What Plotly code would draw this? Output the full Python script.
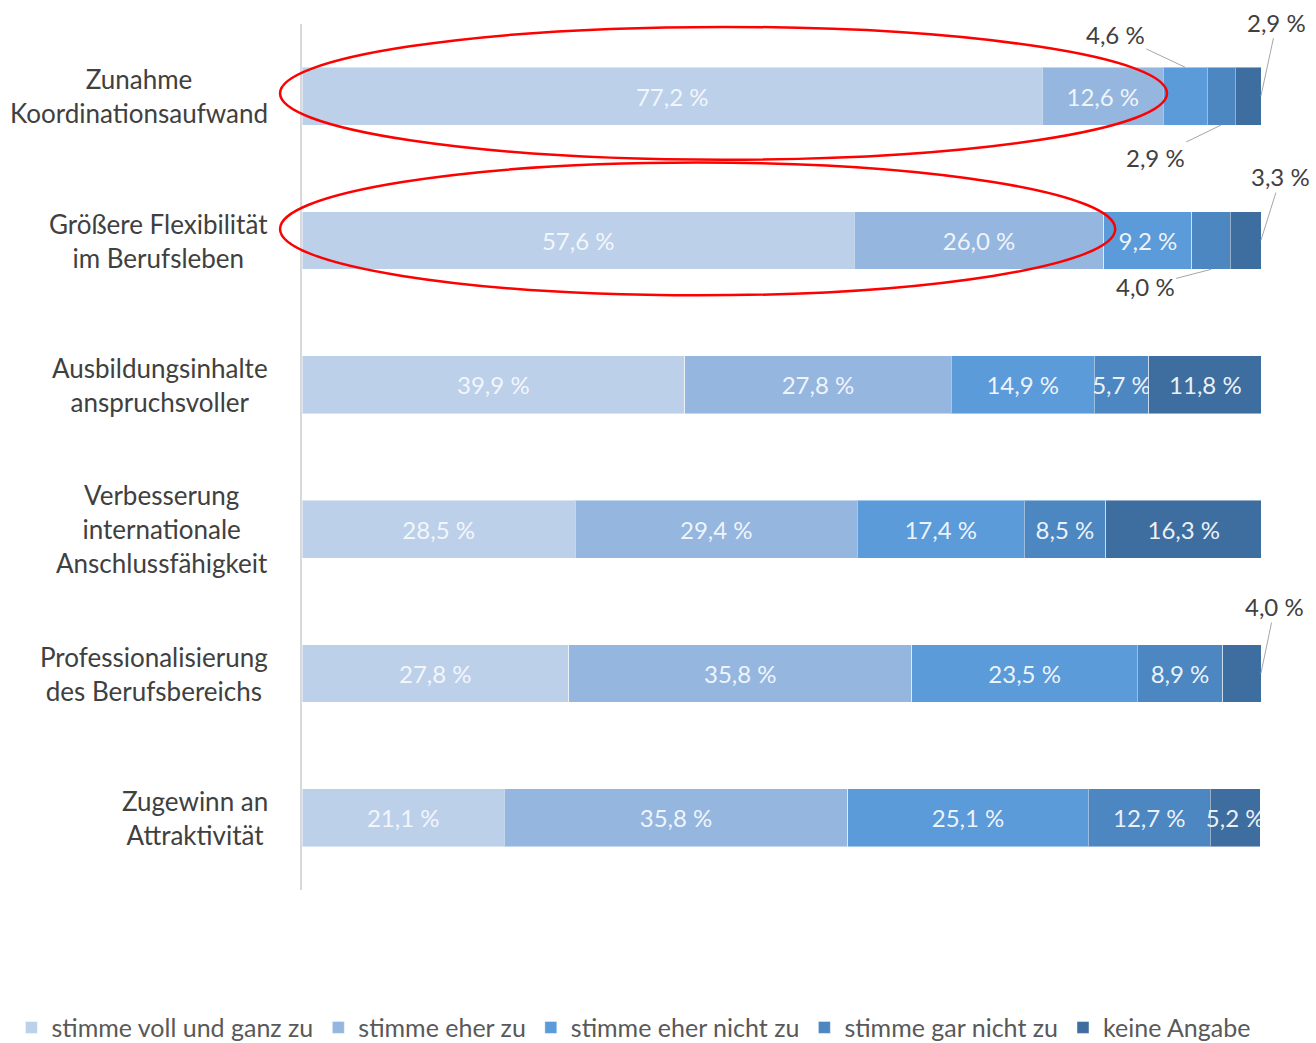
import plotly.graph_objects as go

categories = [
    "Zunahme<br>Koordinationsaufwand",
    "Größere Flexibilität<br>im Berufsleben",
    "Ausbildungsinhalte<br>anspruchsvoller",
    "Verbesserung<br>internationale<br>Anschlussfähigkeit",
    "Professionalisierung<br>des Berufsbereichs",
    "Zugewinn an<br>Attraktivität",
]
series_names = [
    "stimme voll und ganz zu",
    "stimme eher zu",
    "stimme eher nicht zu",
    "stimme gar nicht zu",
    "keine Angabe",
]
voll_und_ganz = [77.2, 57.6, 39.9, 28.5, 27.8, 21.1]
eher_zu = [12.6, 26.0, 27.8, 29.4, 35.8, 35.8]
eher_nicht = [4.6, 9.2, 14.9, 17.4, 23.5, 25.1]
gar_nicht = [2.9, 4.0, 5.7, 8.5, 8.9, 12.7]
keine_angabe = [2.9, 3.3, 11.8, 16.3, 4.0, 5.2]

series_values = [voll_und_ganz, eher_zu, eher_nicht, gar_nicht, keine_angabe]
colors = ["#BDD0EA", "#95B6DF", "#5B9BD9", "#4C87C2", "#3E6E9F"]

# labels that are placed outside with leader lines: (series index, row index)
outside = {(2, 0), (3, 0), (4, 0), (3, 1), (4, 1), (4, 4)}

FONT = "Lato"
X_MAX = 100


def fmt(v):
    return f"{v:.1f}".replace(".", ",") + " %"


fig = go.Figure()
for si, (name, vals, col) in enumerate(zip(series_names, series_values, colors)):
    texts = ["" if (si, ri) in outside else fmt(v) for ri, v in enumerate(vals)]
    fig.add_trace(go.Bar(
        y=categories, x=vals, name=name, orientation="h",
        marker=dict(color=col, line=dict(color="rgba(255,255,255,0.45)", width=1)),
        text=texts, textposition="inside", insidetextanchor="middle",
        textangle=0, constraintext="none",
        textfont=dict(color="rgba(246,249,253,0.96)", size=24, family=FONT),
        hoverinfo="skip",
    ))


def seg_mid(si, ri):
    start = sum(series_values[k][ri] for k in range(si))
    return start + series_values[si][ri] / 2


def row_end(ri):
    return min(sum(series_values[k][ri] for k in range(len(series_values))), X_MAX - 0.01)


leaders = [
    # (si, ri, point type, ax, ay)
    (2, 0, "top", -70, -33),
    (3, 0, "bottom", -66, 32),
    (4, 0, "end", 16, -74),
    (4, 1, "end", 20, -64),
    (3, 1, "bottom", -66, 17),
    (4, 4, "end", 14, -67),
]
for si, ri, kind, ax, ay in leaders:
    if kind == "top":
        px, py = seg_mid(si, ri), ri - 0.2
    elif kind == "bottom":
        px, py = seg_mid(si, ri), ri + 0.2
    else:
        px, py = row_end(ri), ri
    fig.add_annotation(
        x=px, y=py, xref="x", yref="y", text=fmt(series_values[si][ri]),
        showarrow=True, arrowhead=0, arrowwidth=1, arrowcolor="#A6A6A6",
        ax=ax, ay=ay, standoff=0,
        font=dict(size=24, color="#404040", family=FONT),
    )

# category labels (centered multi-line)
for ri, cat in enumerate(categories):
    fig.add_annotation(
        x=0, y=ri, xref="paper", yref="y", text=cat, showarrow=False,
        xanchor="right", align="center", xshift=-32,
        font=dict(size=26, color="#404040", family=FONT),
    )

# red ellipses (highlight annotations)
fig.add_shape(type="circle", xref="paper", yref="y", x0=-0.0229, x1=0.902, y0=-0.48, y1=0.44,
              line=dict(color="#FF0000", width=2.5))
fig.add_shape(type="circle", xref="paper", yref="y", x0=-0.0229, x1=0.848, y0=0.46, y1=1.38,
              line=dict(color="#FF0000", width=2.5))

fig.update_layout(
    barmode="stack", bargap=0.6,
    width=1316, height=1043,
    margin=dict(l=302, r=55, t=24, b=153, autoexpand=False),
    plot_bgcolor="white", paper_bgcolor="white",
    font=dict(family=FONT, color="#595959"),
    xaxis=dict(range=[0, X_MAX], visible=False, showgrid=False, zeroline=False),
    yaxis=dict(autorange="reversed", showticklabels=False, showgrid=False,
               showline=True, linecolor="#D9D9D9", linewidth=2, ticks="",
               zeroline=False),
    legend=dict(orientation="h", xref="paper", yref="paper",
                x=-0.303, xanchor="left", y=-0.159, yanchor="middle",
                traceorder="normal",
                font=dict(size=25, color="#595959", family=FONT),
                itemwidth=30, tracegroupgap=0),
    showlegend=True,
)

fig.write_html("out.html", config={"displayModeBar": False},
               post_script="document.body.style.margin='0';")
